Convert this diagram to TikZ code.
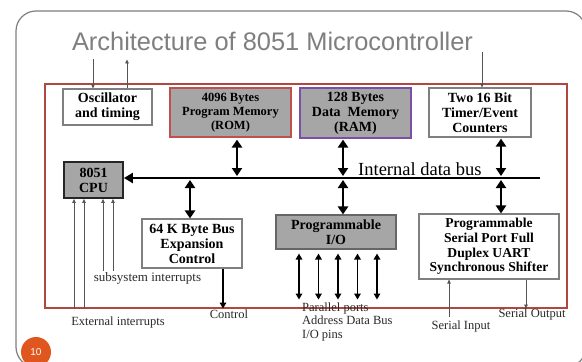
\documentclass[tikz,border=0pt]{standalone}
\usepackage{fontspec}
\setmainfont{Liberation Serif}
\newfontfamily\sansf{Liberation Sans}
\usetikzlibrary{arrows.meta,calc}
\definecolor{boxgray}{HTML}{A6A6A6}
\definecolor{edgegray}{HTML}{7F7F7F}
\definecolor{chipred}{HTML}{B0483F}
\definecolor{romred}{HTML}{C0504D}
\definecolor{rampurple}{HTML}{7B4FA6}
\definecolor{pgorange}{HTML}{E0561F}
\definecolor{labelgray}{HTML}{2A2A2A}
\tikzset{
  blockbox/.style={draw=edgegray, line width=1.1pt, fill=white, inner sep=0pt, align=center,
    font=\bfseries\fontsize{14}{15}\selectfont},
  grayblock/.style={blockbox, fill=boxgray},
  busline/.style={line width=2.8pt, -{Triangle[width=10pt,length=9pt]}},
  bidir/.style={line width=2.6pt, {Triangle[width=10pt,length=8pt]}-{Triangle[width=10pt,length=8pt]}},
  iobidir/.style={line width=1.9pt, {Triangle[width=6.5pt,length=6pt]}-{Triangle[width=6.5pt,length=6pt]}},
  ctrlarrow/.style={line width=1.9pt, -{Triangle[width=6.5pt,length=6pt]}},
  thinarrow/.style={line width=0.7pt, draw=labelgray!80, -{Triangle[width=3.5pt,length=4pt]}},
  smalllabel/.style={inner sep=0pt, text=labelgray, font=\fontsize{12.5}{13.5}\selectfont},
}
\begin{document}
\begin{tikzpicture}[x=1pt,y=-1pt]
\useasboundingbox (0,0) rectangle (582,362);
\fill[white] (0,0) rectangle (582,362);
% slide frame
\begin{scope}
\clip (0,0) rectangle (582,362);
\draw[edgegray, line width=1.2pt, rounded corners=20pt] (16,11) rectangle (586,367);
\end{scope}
% title
\node[inner sep=0pt, anchor=base, text=edgegray, font=\sansf\fontsize{25.4}{28}\selectfont] (title) at (272.5,50) {Architecture of 8051 Microcontroller};
% chip outline
\node[draw=chipred, line width=1.1pt, minimum width=522pt, minimum height=224pt, inner sep=0pt] (chip) at (306,196) {};
% blocks
\node[blockbox, minimum width=89pt, minimum height=36pt] (osc) at (107.5,107) {Oscillator\\and timing};
\node[grayblock, draw=romred, minimum width=121pt, minimum height=49pt, font=\bfseries\fontsize{12.5}{14}\selectfont] (rom) at (230.5,112.5) {4096 Bytes\\Program Memory\\(ROM)};
\node[grayblock, draw=rampurple, minimum width=111pt, minimum height=50pt] (ram) at (355.5,113) {128 Bytes\\Data~~Memory\\(RAM)};
\node[blockbox, minimum width=102pt, minimum height=49pt] (timer) at (480,112.5) {Two 16 Bit\\Timer/Event\\Counters};
\node[grayblock, draw=black!85, line width=1.8pt, minimum width=59pt, minimum height=36pt] (cpu) at (93.5,180) {8051\\CPU};
\node[blockbox, minimum width=100pt, minimum height=49pt] (exp) at (192,243.5) {64 K Byte Bus\\Expansion\\Control};
\node[grayblock, draw=black!60, minimum width=120pt, minimum height=34pt] (pio) at (336,232) {Programmable\\I/O};
\node[blockbox, minimum width=140pt, minimum height=65pt, font=\bfseries\fontsize{13.6}{14.7}\selectfont] (ser) at (489,246.5) {Programmable\\Serial Port Full\\Duplex UART\\Synchronous Shifter};
% internal data bus
\coordinate (busR) at (540,178);
\coordinate (bROM) at (237,178);
\coordinate (bEXP) at (190,178);
\coordinate (bRAM) at (343,178);
\coordinate (bTIM) at (501,178);
\draw[busline] (busR) -- (busR -| cpu.east);
\node[inner sep=0pt, anchor=base west, font=\fontsize{18.5}{20}\selectfont] (buslabel) at (358,175.5) {Internal data bus};
% bus connections
\draw[bidir] ($(bROM |- rom.south)+(0,2)$) -- ($(bROM)+(0,-2)$);
\draw[bidir] ($(bRAM |- ram.south)+(0,1)$) -- ($(bRAM)+(0,-2)$);
\draw[bidir] ($(bTIM |- timer.south)+(0,1)$) -- ($(bTIM)+(0,-2)$);
\draw[bidir] ($(bEXP)+(0,2)$) -- (bEXP |- exp.north);
\draw[bidir] ($(bRAM)+(0,2)$) -- (bRAM |- pio.north);
\draw[bidir] ($(bTIM)+(0,2)$) -- (bTIM |- ser.north);
% I/O pins
\foreach \dx/\nm in {-37/p1,-17.5/p2,2/p3,21.5/p4,41/p5}{
  \coordinate (\nm) at ($(pio.south)+(\dx,4)$);
  \draw[iobidir] (\nm) -- ($(\nm)+(0,46)$);
}
% control
\coordinate (ctl) at ($(exp.south)+(31,0)$);
\draw[ctrlarrow] (ctl) -- (ctl |- chip.south);
% CPU interrupts
\foreach \dx/\nm in {-19.5/e1,-9.5/e2}{
  \coordinate (\nm) at ($(cpu.south)+(\dx,0)$);
  \draw[thinarrow] (\nm |- chip.south) -- (\nm);
}
\foreach \dx/\nm in {9.5/s1,19.5/s2}{
  \coordinate (\nm) at ($(cpu.south)+(\dx,0)$);
  \draw[thinarrow] ($(\nm)+(0,72)$) -- (\nm);
}
% oscillator
\coordinate (o1) at ($(osc.north)+(-14.5,0)$);
\coordinate (o2) at ($(osc.north)+(19.5,0)$);
\draw[thinarrow] ($(o1)+(0,-29)$) -- (o1);
\draw[thinarrow] (o2) -- ($(o2)+(0,-29)$);
% timer input
\coordinate (t1) at ($(timer.north)+(2,0)$);
\draw[thinarrow] ($(t1)+(0,-35)$) -- (t1);
% serial in/out
\coordinate (si) at ($(ser.south)+(-40,0)$);
\coordinate (so) at ($(ser.south)+(37,0)$);
\draw[thinarrow] ($(si)+(0,37)$) -- (si);
\draw[thinarrow] (so) -- (so |- chip.south);
% labels
\node[smalllabel, font=\fontsize{13}{14}\selectfont] (sublbl) at (147.5,278) {subsystem interrupts};
\node[smalllabel] (extlbl) at (118,322) {External interrupts};
\node[smalllabel] (ctllbl) at (229,314) {Control};
\node[smalllabel, anchor=north west, align=left] (parlbl) at (302,302.5) {Parallel ports\\Address Data Bus\\I/O pins};
\node[smalllabel] (silbl) at (461,326) {Serial Input};
\node[smalllabel] (solbl) at (532,314) {Serial Output};
% page number
\node[circle, fill=pgorange, minimum size=30pt, inner sep=0pt, text=white, font=\sansf\fontsize{10}{11}\selectfont] (pg) at (36,352) {10};
\end{tikzpicture}
\end{document}
